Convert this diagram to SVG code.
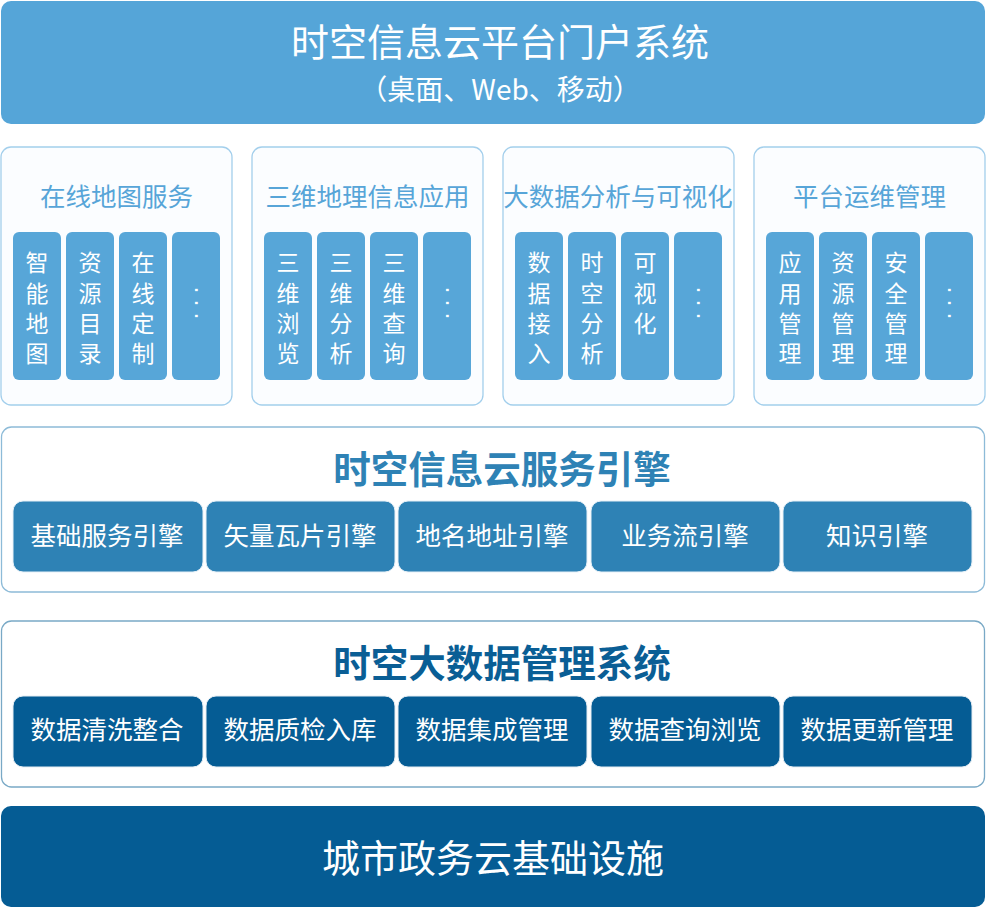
<svg xmlns="http://www.w3.org/2000/svg" width="986" height="908" viewBox="0 0 986 908">
<style>
text{font-family:"Noto Sans CJK SC","Noto Sans",sans-serif;text-anchor:middle;dominant-baseline:central}
.w{fill:#ffffff}
.banner{fill:#55a5d8}
.panel{fill:#fbfdff;stroke:#a3cfec;stroke-width:1.3}
.sb{fill:#57a6d8}
.pt{fill:#57a5d8;font-size:25.5px}
.vt{fill:#ffffff;font-size:23px}
.dots{fill:#ffffff;font-size:22px;font-family:"DejaVu Sans",sans-serif;text-anchor:start;letter-spacing:6px}
.sec1{fill:#ffffff;stroke:#8dbbd8;stroke-width:1.3}
.sec2{fill:#ffffff;stroke:#79a9c6;stroke-width:1.3}
.mb{fill:#2e82b5;stroke:#e6f0f7;stroke-width:1}
.lb{fill:#055c94;stroke:#e6edf3;stroke-width:1}
.bt{fill:#ffffff;font-size:25.5px}
.st{font-size:37.5px;font-weight:bold}
</style>
<g id="portal">
<rect class="banner" x="1" y="1" width="984" height="123" rx="10"/>
<text class="w" x="500" y="39" font-size="38">时空信息云平台门户系统</text>
<text class="w" x="500" y="87.5" font-size="28">（桌面、Web、移动）</text>
</g>
<g id="panel-map">
<rect class="panel" x="1" y="147" width="231" height="258" rx="10"/>
<text class="pt" x="116.5" y="194.5">在线地图服务</text>
<rect class="sb" x="13" y="232" width="48" height="148" rx="6"/>
<rect class="sb" x="66" y="232" width="48" height="148" rx="6"/>
<rect class="sb" x="119" y="232" width="48" height="148" rx="6"/>
<rect class="sb" x="172" y="232" width="48" height="148" rx="6"/>
<text class="vt"><tspan x="37" y="261">智</tspan><tspan x="37" y="291.5">能</tspan><tspan x="37" y="321.5">地</tspan><tspan x="37" y="351.5">图</tspan></text>
<text class="vt"><tspan x="90" y="261">资</tspan><tspan x="90" y="291.5">源</tspan><tspan x="90" y="321.5">目</tspan><tspan x="90" y="351.5">录</tspan></text>
<text class="vt"><tspan x="143" y="261">在</tspan><tspan x="143" y="291.5">线</tspan><tspan x="143" y="321.5">定</tspan><tspan x="143" y="351.5">制</tspan></text>
<text class="dots" transform="translate(196 0) rotate(90)" x="286.5" y="0">···</text>
</g>
<g id="panel-3d">
<rect class="panel" x="252" y="147" width="231" height="258" rx="10"/>
<text class="pt" x="367.5" y="194.5">三维地理信息应用</text>
<rect class="sb" x="264" y="232" width="48" height="148" rx="6"/>
<rect class="sb" x="317" y="232" width="48" height="148" rx="6"/>
<rect class="sb" x="370" y="232" width="48" height="148" rx="6"/>
<rect class="sb" x="423" y="232" width="48" height="148" rx="6"/>
<text class="vt"><tspan x="288" y="261">三</tspan><tspan x="288" y="291.5">维</tspan><tspan x="288" y="321.5">浏</tspan><tspan x="288" y="351.5">览</tspan></text>
<text class="vt"><tspan x="341" y="261">三</tspan><tspan x="341" y="291.5">维</tspan><tspan x="341" y="321.5">分</tspan><tspan x="341" y="351.5">析</tspan></text>
<text class="vt"><tspan x="394" y="261">三</tspan><tspan x="394" y="291.5">维</tspan><tspan x="394" y="321.5">查</tspan><tspan x="394" y="351.5">询</tspan></text>
<text class="dots" transform="translate(447 0) rotate(90)" x="286.5" y="0">···</text>
</g>
<g id="panel-bigdata">
<rect class="panel" x="503" y="147" width="231" height="258" rx="10"/>
<text class="pt" x="618" y="194.5">大数据分析与可视化</text>
<rect class="sb" x="515" y="232" width="48" height="148" rx="6"/>
<rect class="sb" x="568" y="232" width="48" height="148" rx="6"/>
<rect class="sb" x="621" y="232" width="48" height="148" rx="6"/>
<rect class="sb" x="674" y="232" width="48" height="148" rx="6"/>
<text class="vt"><tspan x="539" y="261">数</tspan><tspan x="539" y="291.5">据</tspan><tspan x="539" y="321.5">接</tspan><tspan x="539" y="351.5">入</tspan></text>
<text class="vt"><tspan x="592" y="261">时</tspan><tspan x="592" y="291.5">空</tspan><tspan x="592" y="321.5">分</tspan><tspan x="592" y="351.5">析</tspan></text>
<text class="vt"><tspan x="645" y="261">可</tspan><tspan x="645" y="291.5">视</tspan><tspan x="645" y="321.5">化</tspan></text>
<text class="dots" transform="translate(698 0) rotate(90)" x="286.5" y="0">···</text>
</g>
<g id="panel-ops">
<rect class="panel" x="754" y="147" width="231" height="258" rx="10"/>
<text class="pt" x="869.5" y="194.5">平台运维管理</text>
<rect class="sb" x="766" y="232" width="48" height="148" rx="6"/>
<rect class="sb" x="819" y="232" width="48" height="148" rx="6"/>
<rect class="sb" x="872" y="232" width="48" height="148" rx="6"/>
<rect class="sb" x="925" y="232" width="48" height="148" rx="6"/>
<text class="vt"><tspan x="790" y="261">应</tspan><tspan x="790" y="291.5">用</tspan><tspan x="790" y="321.5">管</tspan><tspan x="790" y="351.5">理</tspan></text>
<text class="vt"><tspan x="843" y="261">资</tspan><tspan x="843" y="291.5">源</tspan><tspan x="843" y="321.5">管</tspan><tspan x="843" y="351.5">理</tspan></text>
<text class="vt"><tspan x="896" y="261">安</tspan><tspan x="896" y="291.5">全</tspan><tspan x="896" y="321.5">管</tspan><tspan x="896" y="351.5">理</tspan></text>
<text class="dots" transform="translate(949 0) rotate(90)" x="286.5" y="0">···</text>
</g>
<g id="engine">
<rect class="sec1" x="1.5" y="427" width="983" height="165" rx="10"/>
<text class="st" x="502" y="466" fill="#2e82b5">时空信息云服务引擎</text>
<rect class="mb" x="13" y="501" width="190" height="71" rx="10"/>
<rect class="mb" x="206" y="501" width="189" height="71" rx="10"/>
<rect class="mb" x="398" y="501" width="189" height="71" rx="10"/>
<rect class="mb" x="591" y="501" width="189" height="71" rx="10"/>
<rect class="mb" x="783" y="501" width="189" height="71" rx="10"/>
<text class="bt" x="107" y="533.5">基础服务引擎</text>
<text class="bt" x="300" y="533.5">矢量瓦片引擎</text>
<text class="bt" x="492" y="533.5">地名地址引擎</text>
<text class="bt" x="685" y="533.5">业务流引擎</text>
<text class="bt" x="877" y="533.5">知识引擎</text>
</g>
<g id="datamgmt">
<rect class="sec2" x="1.5" y="621" width="983" height="166" rx="10"/>
<text class="st" x="502" y="660" fill="#0a5e95">时空大数据管理系统</text>
<rect class="lb" x="13" y="696" width="190" height="71" rx="10"/>
<rect class="lb" x="206" y="696" width="189" height="71" rx="10"/>
<rect class="lb" x="398" y="696" width="189" height="71" rx="10"/>
<rect class="lb" x="591" y="696" width="189" height="71" rx="10"/>
<rect class="lb" x="783" y="696" width="189" height="71" rx="10"/>
<text class="bt" x="107" y="727.5">数据清洗整合</text>
<text class="bt" x="300" y="727.5">数据质检入库</text>
<text class="bt" x="492" y="727.5">数据集成管理</text>
<text class="bt" x="685" y="727.5">数据查询浏览</text>
<text class="bt" x="877" y="727.5">数据更新管理</text>
</g>
<g id="infra">
<rect x="1" y="806" width="984" height="101" rx="10" fill="#055c94"/>
<text class="w" x="493" y="855" font-size="38">城市政务云基础设施</text>
</g>
<g id="connectors"/>
</svg>
